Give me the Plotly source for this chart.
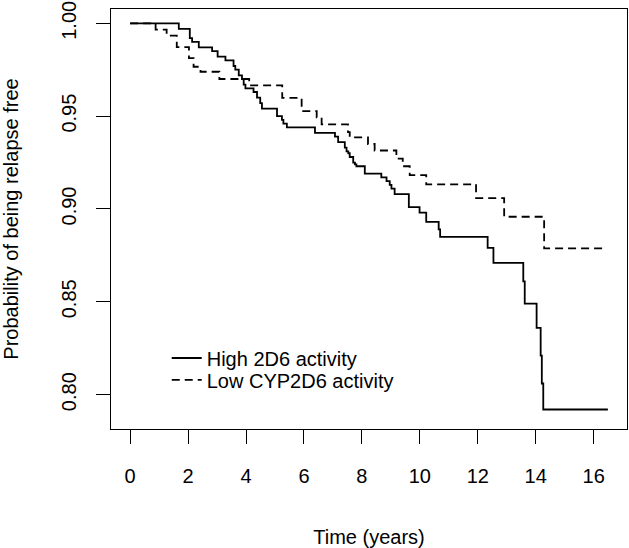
import plotly.graph_objects as go

# Kaplan-Meier step data
high_time = [0, 1.68, 2.06, 2.14, 2.37, 2.83, 3.02, 3.29, 3.57, 3.63,
             3.75, 3.86, 3.92, 3.98, 4.26, 4.38, 4.49, 4.55, 5.07, 5.24,
             5.29, 5.41, 6.38, 7.07, 7.18, 7.41, 7.47, 7.53, 7.58, 7.70,
             7.76, 7.81, 8.10, 8.67, 8.85, 8.96, 9.02, 9.13, 9.62, 9.99,
             10.22, 10.65, 10.70, 12.34, 12.54, 13.57, 13.62, 14.03, 14.17, 14.21,
             14.26, 16.49]
high_surv = [1.0, 0.997, 0.992, 0.990, 0.987, 0.985, 0.982, 0.980, 0.977, 0.975,
             0.972, 0.970, 0.967, 0.965, 0.963, 0.960, 0.957, 0.954, 0.950, 0.948,
             0.946, 0.944, 0.941, 0.939, 0.936, 0.933, 0.931, 0.930, 0.928, 0.925,
             0.924, 0.923, 0.919, 0.917, 0.915, 0.913, 0.911, 0.908, 0.901, 0.898,
             0.893, 0.889, 0.885, 0.879, 0.871, 0.861, 0.849, 0.836, 0.821, 0.806,
             0.792, 0.792]

low_time = [0, 0.88, 1.26, 1.61, 2.03, 2.19, 2.43, 3.08, 4.11, 5.25,
            5.92, 6.44, 6.61, 7.52, 7.58, 8.21, 8.44, 9.19, 9.41, 9.65,
            10.22, 11.94, 12.91, 14.29, 16.35]
low_surv = [1.0, 0.9966, 0.9934, 0.9872, 0.9812, 0.9766, 0.9739, 0.9700, 0.9666, 0.9598,
            0.9527, 0.9493, 0.9456, 0.9414, 0.9386, 0.9350, 0.9315, 0.9271, 0.9230, 0.9182,
            0.9133, 0.9058, 0.8958, 0.8788, 0.8788]

x_ticks = [0, 2, 4, 6, 8, 10, 12, 14, 16]
y_ticks = [0.80, 0.85, 0.90, 0.95, 1.00]
y_tick_labels = ["0.80", "0.85", "0.90", "0.95", "1.00"]

FONT = "Liberation Sans, Arial, Helvetica, sans-serif"
FS = 20

fig = go.Figure()
fig.add_trace(go.Scatter(
    x=high_time, y=high_surv, mode="lines", line_shape="hv",
    name="High 2D6 activity", legend="legend",
    line=dict(color="black", width=1.8),
))
fig.add_trace(go.Scatter(
    x=low_time, y=low_surv, mode="lines", line_shape="hv",
    name="Low CYP2D6 activity", legend="legend2",
    line=dict(color="black", width=1.8, dash="8px,5px"),
))

legend_common = dict(
    xanchor="left", yanchor="middle",
    bgcolor="rgba(0,0,0,0)", borderwidth=0,
    font=dict(family=FONT, size=FS, color="black"),
)

fig.update_layout(
    width=629, height=548,
    margin=dict(l=111, r=1, t=3, b=119),
    paper_bgcolor="white", plot_bgcolor="white",
    font=dict(family=FONT, size=FS, color="black"),
    showlegend=True,
    legend=dict(x=0.108, y=0.169, **legend_common),
    legend2=dict(x=0.108, y=0.117, **legend_common),
    xaxis=dict(
        range=[-0.66, 17.15], tickvals=x_ticks,
        ticks="outside", ticklen=14, tickwidth=1.3, tickcolor="black",
        showline=True, linecolor="black", linewidth=1.3, mirror=True,
        showgrid=False, zeroline=False,
        ticklabelstandoff=15, ticklabeloverflow="allow",
        title=dict(text="Time (years)", standoff=44,
                   font=dict(family=FONT, size=FS, color="black")),
    ),
    yaxis=dict(
        range=[0.7815, 1.0077], tickvals=y_ticks, ticktext=y_tick_labels,
        tickangle=-90,
        ticks="outside", ticklen=14, tickwidth=1.3, tickcolor="black",
        showline=True, linecolor="black", linewidth=1.3, mirror=True,
        showgrid=False, zeroline=False,
        ticklabelstandoff=12, ticklabeloverflow="allow",
        title=dict(text="Probability of being relapse free", standoff=34,
                   font=dict(family=FONT, size=FS, color="black")),
    ),
)

fig.write_html("out.html", config={"displayModeBar": False},
               post_script="document.body.style.margin='0';")
